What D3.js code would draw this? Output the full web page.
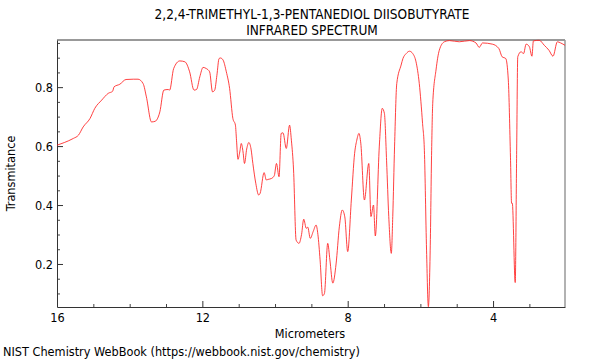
<!DOCTYPE html>
<html>
<head>
<meta charset="utf-8">
<script src="https://cdn.jsdelivr.net/npm/d3@7"></script>
<style>
  body { margin: 0; background: #fff; }
  text { font-family: "DejaVu Sans Condensed", "DejaVu Sans", sans-serif; font-stretch: condensed; fill: #000; }
</style>
</head>
<body>
<svg id="chart" width="600" height="360"></svg>
<script>
// wavelength (micrometers) and transmittance
const micrometers = [16.00, 15.80, 15.55, 15.41, 15.28, 15.09, 14.96, 14.77, 14.59, 14.47,
	14.43, 14.27, 14.10, 13.90, 13.77, 13.63, 13.54, 13.40, 13.30, 13.26,
	13.17, 13.06, 12.94, 12.90, 12.79, 12.62, 12.48, 12.35, 12.23, 12.16,
	12.07, 11.98, 11.89, 11.80, 11.72, 11.66, 11.60, 11.54, 11.50, 11.43,
	11.34, 11.25, 11.16, 11.09, 11.06, 11.02, 10.97, 10.93, 10.88, 10.84,
	10.78, 10.72, 10.66, 10.61, 10.53, 10.45, 10.41, 10.30, 10.24, 10.19,
	10.10, 10.02, 9.96, 9.89, 9.83, 9.78, 9.69, 9.60, 9.55, 9.49,
	9.42, 9.34, 9.27, 9.21, 9.14, 9.10, 9.03, 8.95, 8.87, 8.82,
	8.76, 8.69, 8.64, 8.55, 8.49, 8.41, 8.32, 8.23, 8.15, 8.08,
	8.00, 7.90, 7.81, 7.75, 7.69, 7.64, 7.54, 7.42, 7.36, 7.29,
	7.24, 7.13, 7.05, 6.99, 6.93, 6.87, 6.80, 6.76, 6.71, 6.65,
	6.53, 6.48, 6.39, 6.30, 6.21, 6.12, 6.03, 5.94, 5.89, 5.83,
	5.78, 5.73, 5.69, 5.66, 5.57, 5.48, 5.34, 5.20, 4.93, 4.65,
	4.47, 4.38, 4.29, 4.02, 3.84, 3.75, 3.65, 3.58, 3.52, 3.49,
	3.47, 3.39, 3.35, 3.32, 3.23, 3.16, 3.09, 3.00, 2.93, 2.89,
	2.73, 2.59, 2.46, 2.35, 2.23, 2.14, 2.02];
const transmittance = [0.603, 0.612, 0.626, 0.637, 0.665, 0.694, 0.728, 0.756, 0.779, 0.786,
	0.801, 0.810, 0.826, 0.827, 0.827, 0.812, 0.767, 0.682, 0.684, 0.688,
	0.716, 0.790, 0.792, 0.790, 0.863, 0.889, 0.886, 0.852, 0.790, 0.792,
	0.835, 0.867, 0.863, 0.852, 0.784, 0.790, 0.840, 0.897, 0.899, 0.892,
	0.852, 0.796, 0.694, 0.671, 0.620, 0.555, 0.580, 0.609, 0.580, 0.541,
	0.590, 0.612, 0.590, 0.541, 0.474, 0.434, 0.440, 0.510, 0.485, 0.487,
	0.490, 0.500, 0.541, 0.496, 0.643, 0.645, 0.592, 0.671, 0.620, 0.519,
	0.281, 0.270, 0.300, 0.352, 0.321, 0.325, 0.287, 0.310, 0.332, 0.300,
	0.214, 0.092, 0.100, 0.270, 0.214, 0.135, 0.200, 0.326, 0.383, 0.360,
	0.242, 0.417, 0.575, 0.620, 0.643, 0.610, 0.417, 0.541, 0.361, 0.400,
	0.295, 0.600, 0.728, 0.711, 0.550, 0.361, 0.236, 0.361, 0.600, 0.812,
	0.875, 0.897, 0.914, 0.922, 0.914, 0.886, 0.812, 0.677, 0.586, 0.247,
	0.055, 0.247, 0.586, 0.745, 0.858, 0.925, 0.954, 0.958, 0.954, 0.958,
	0.950, 0.935, 0.950, 0.946, 0.931, 0.903, 0.897, 0.824, 0.560, 0.406,
	0.406, 0.137, 0.586, 0.903, 0.920, 0.914, 0.946, 0.937, 0.905, 0.957,
	0.959, 0.942, 0.925, 0.905, 0.954, 0.950, 0.942];

const xMajor = [16, 12, 8, 4];
const yMajor = [0.2, 0.4, 0.6, 0.8];
const titleLines = ["2,2,4-TRIMETHYL-1,3-PENTANEDIOL DIISOBUTYRATE", "INFRARED SPECTRUM"];

const svg = d3.select("#chart");
const plotL = 57, plotR = 565, plotT = 40, plotB = 307;
const labelSize = "12.6px";

const x = d3.scaleLinear().domain([16, 2.02]).range([plotL, plotR]);
const y = d3.scaleLinear().domain([0.054, 0.96]).range([plotB, plotT]);

// frame: top and right in grey
svg.append("line").attr("x1", plotL).attr("x2", plotR).attr("y1", plotT).attr("y2", plotT)
	.attr("stroke", "#999").attr("stroke-width", 2);
svg.append("line").attr("x1", plotR).attr("x2", plotR).attr("y1", plotT).attr("y2", plotB)
	.attr("stroke", "#999").attr("stroke-width", 1.5);

// minor ticks
svg.append("g").attr("transform", `translate(0,${plotB})`)
	.call(d3.axisBottom(x).tickValues(d3.range(15, 2, -1).filter(d => !xMajor.includes(d)))
		.tickSize(-3).tickFormat(""))
	.call(g => g.select(".domain").remove())
	.call(g => g.selectAll("line").attr("stroke", "#444"));
svg.append("g").attr("transform", `translate(${plotL},0)`)
	.call(d3.axisLeft(y).tickValues(d3.range(0.1, 0.96, 0.05).filter(d => !yMajor.some(m => Math.abs(m - d) < 1e-6)))
		.tickSize(-3).tickFormat(""))
	.call(g => g.select(".domain").remove())
	.call(g => g.selectAll("line").attr("stroke", "#444"));

// major axes
const xAxis = svg.append("g").attr("transform", `translate(0,${plotB})`)
	.call(d3.axisBottom(x).tickValues(xMajor).tickSize(-6).tickPadding(6).tickSizeOuter(0));
const yAxis = svg.append("g").attr("transform", `translate(${plotL},0)`)
	.call(d3.axisLeft(y).tickValues(yMajor).tickSize(-6).tickPadding(4).tickSizeOuter(0).tickFormat(d3.format(".1f")));
[xAxis, yAxis].forEach(g => {
	g.selectAll("text").style("font-size", labelSize).attr("font-family", null);
	g.selectAll("line").attr("stroke", "#333");
	g.select(".domain").attr("stroke", "#333");
});

// spectrum
const points = micrometers.map((m, i) => [m, transmittance[i]]);
const line = d3.line()
	.x(d => x(d[0]))
	.y(d => y(d[1]))
	.curve(d3.curveMonotoneX);
svg.append("path")
	.datum(points)
	.attr("d", line)
	.attr("fill", "none")
	.attr("stroke", "#ff2020")
	.attr("stroke-opacity", 0.85)
	.attr("stroke-width", 1);

// texts
svg.selectAll(".title").data(titleLines).enter().append("text")
	.attr("x", 312).attr("y", (d, i) => 19 + i * 15.5)
	.attr("text-anchor", "middle").style("font-size", "13.5px")
	.text(d => d);
svg.append("text").attr("x", 310).attr("y", 338)
	.attr("text-anchor", "middle").style("font-size", labelSize).text("Micrometers");
svg.append("text").attr("transform", `translate(15,${(plotT + plotB) / 2}) rotate(-90)`)
	.attr("text-anchor", "middle").style("font-size", labelSize).text("Transmitance");
svg.append("text").attr("x", 3).attr("y", 356).style("font-size", labelSize)
	.text("NIST Chemistry WebBook (https://webbook.nist.gov/chemistry)");
</script>
</body>
</html>
